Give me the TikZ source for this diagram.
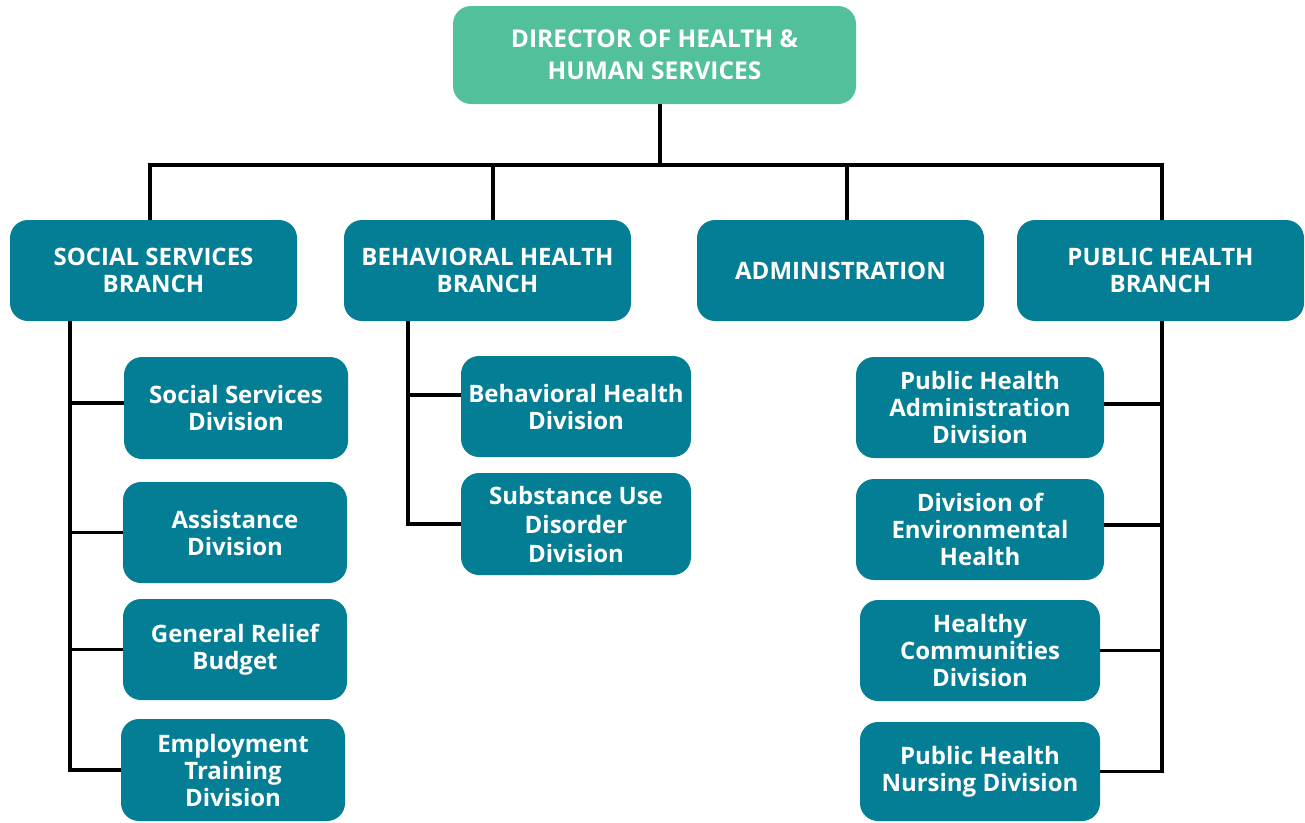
\documentclass[tikz,border=0pt]{standalone}
\usepackage{fontspec}
\setmainfont{Open Sans}
\definecolor{teal1}{RGB}{4,126,148}
\definecolor{green1}{RGB}{82,193,155}
\begin{document}
\begin{tikzpicture}[x=1pt,y=-1pt,
  box/.style={fill=teal1, rounded corners=18pt, text=white, align=center, inner sep=0pt,
    font=\fontsize{24}{27}\selectfont\bfseries},
  conn/.style={line width=3.5pt, draw=black}]
\useasboundingbox (0,0) rectangle (1305,822);
% top
\node[box, fill=green1, minimum width=403pt, minimum height=98pt, font=\fontsize{24.5}{32}\selectfont\bfseries] (dir) at (654.5,55) {DIRECTOR OF HEALTH \&\\HUMAN SERVICES};
% branches
\node[box, minimum width=287pt, minimum height=101pt] (ssb) at (153.5,270.5) {SOCIAL SERVICES\\BRANCH};
\node[box, minimum width=287pt, minimum height=101pt] (bhb) at (487.5,270.5) {BEHAVIORAL HEALTH\\BRANCH};
\node[box, minimum width=287pt, minimum height=101pt] (adm) at (840.5,270.5) {ADMINISTRATION};
\node[box, minimum width=287pt, minimum height=101pt] (phb) at (1160.5,270.5) {PUBLIC HEALTH\\BRANCH};
% social divisions
\node[box, minimum width=224pt, minimum height=102pt] (ssd) at (236,408) {Social Services\\Division};
\node[box, minimum width=224pt, minimum height=101pt] (asd) at (235,532.5) {Assistance\\Division};
\node[box, minimum width=224pt, minimum height=101pt] (grb) at (235,649.5) {General Relief\\Budget};
\node[box, minimum width=224pt, minimum height=102pt] (etd) at (233,770) {Employment\\Training\\Division};
% behavioral divisions
\node[box, minimum width=230pt, minimum height=101pt] (bhd) at (576,406.5) {Behavioral Health\\Division};
\node[box, minimum width=230pt, minimum height=102pt, font=\fontsize{24}{29}\selectfont\bfseries] (sud) at (576,524) {Substance Use\\Disorder\\Division};
% public health divisions
\node[box, minimum width=248pt, minimum height=101pt] (pha) at (980,407.5) {Public Health\\Administration\\Division};
\node[box, minimum width=248pt, minimum height=101pt] (deh) at (980,529.5) {Division of\\Environmental\\Health};
\node[box, minimum width=240pt, minimum height=101pt] (hcd) at (980,650.5) {Healthy\\Communities\\Division};
\node[box, minimum width=240pt, minimum height=99pt] (phn) at (980,771.5) {Public Health\\Nursing Division};
% top connectors
\coordinate (bus) at (660,165);
\coordinate (busL) at (150,165);
\coordinate (busR) at (1162,165);
\draw[conn] (dir.south -| bus) -- (bus);
\draw[conn] (ssb.north -| busL) -- (busL) -- (busR) -- (phb.north -| busR);
\draw[conn] (bhb.north -| 493,0) -- (bus -| 493,0);
\draw[conn] (adm.north -| 847,0) -- (bus -| 847,0);
% social trunk
\coordinate (st) at (70,321);
\draw[conn] (st) |- (etd.west);
\draw[conn] (st |- 0,403) -- (ssd.west |- 0,403);
\draw[conn] (st |- asd.west) -- (asd.west);
\draw[conn] (st |- grb.west) -- (grb.west);
% behavioral trunk
\coordinate (bt) at (408,321);
\draw[conn] (bt) |- (sud.west);
\draw[conn] (bt |- 0,395) -- (bhd.west |- 0,395);
% public health trunk
\coordinate (pt) at (1162,321);
\draw[conn] (pt) |- (phn.east);
\draw[conn] (pt |- 0,404) -- (pha.east |- 0,404);
\draw[conn] (pt |- 0,525) -- (deh.east |- 0,525);
\draw[conn] (pt |- hcd.east) -- (hcd.east);
\end{tikzpicture}
\end{document}
